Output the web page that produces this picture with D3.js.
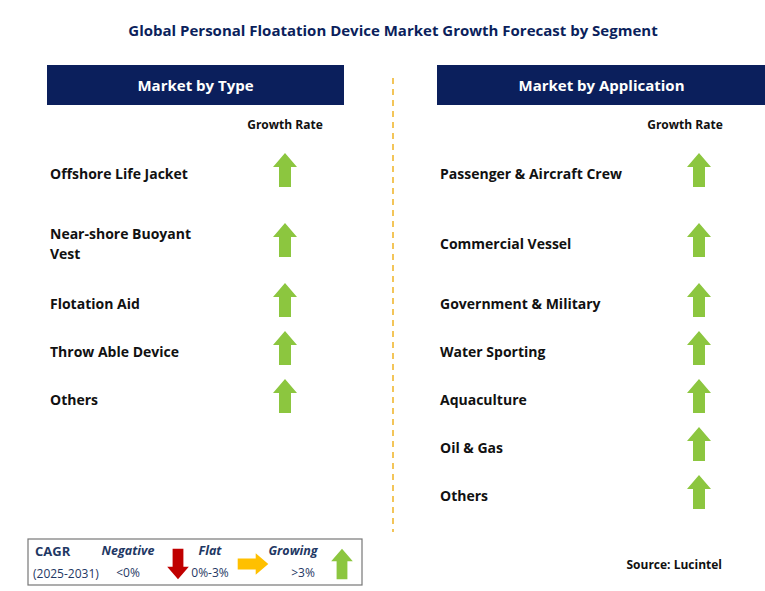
<!DOCTYPE html>
<html><head><meta charset="utf-8">
<script src="https://cdn.jsdelivr.net/npm/d3@7"></script>
<style>body{margin:0;background:#fff}text{font-family:"Open Sans",Arial,sans-serif}</style>
</head><body><svg id="c" width="765" height="591"></svg>
<script>
const title = "Global Personal Floatation Device Market Growth Forecast by Segment";
const typeSegments = ["Offshore Life Jacket", "Near-shore Buoyant\nVest", "Flotation Aid", "Throw Able Device", "Others"];
const typeGrowth = ["growing","growing","growing","growing","growing"];
const appSegments = ["Passenger & Aircraft Crew", "Commercial Vessel", "Government & Military", "Water Sporting", "Aquaculture", "Oil & Gas", "Others"];
const appGrowth = ["growing","growing","growing","growing","growing","growing","growing"];
const legendItems = [{label:"Negative", range:"<0%", dir:"down"},{label:"Flat", range:"0%-3%", dir:"right"},{label:"Growing", range:">3%", dir:"up"}];

const svg = d3.select("#c");
const navy = "#0b1f5c";
svg.append("text").attr("x",393).attr("y",36).attr("text-anchor","middle")
  .attr("font-size",15).attr("font-weight",700).attr("fill",navy).text(title);
svg.append("line").attr("x1",393).attr("x2",393).attr("y1",78).attr("y2",532)
  .attr("stroke","#f0b323").attr("stroke-width",1.5).attr("stroke-dasharray","6,5");

const colors = {up:"#8cc63f", down:"#c00000", right:"#ffc000"};
function arrow(g, cx, cy, dir, s=1){
  const p = "M0,-17 L12,-3 L6,-3 L6,17 L-6,17 L-6,-3 L-12,-3 Z";
  const rot = dir==="up"?0:dir==="down"?180:90;
  g.append("path").attr("d",p).attr("fill",colors[dir])
   .attr("transform",`translate(${cx},${cy}) rotate(${rot}) scale(${s})`);
}

function panel(x0, w, header, segs, growth, arrowX, labelX, rowYs){
  svg.append("rect").attr("x",x0).attr("y",65).attr("width",w).attr("height",40).attr("fill",navy);
  svg.append("text").attr("x",x0+w/2).attr("y",91).attr("text-anchor","middle")
    .attr("font-size",15).attr("font-weight",700).attr("fill","#fff").text(header);
  svg.append("text").attr("x",labelX).attr("y",129).attr("text-anchor","middle")
    .attr("font-size",12).attr("font-weight",700).attr("fill","#111").text("Growth Rate");
  const y = d3.scaleOrdinal().domain(segs).range(rowYs);
  const g = svg.append("g");
  segs.forEach((s,i)=>{
    const lines = s.split("\n");
    const t = g.append("text").attr("x",x0+3).attr("font-size",14).attr("font-weight",700).attr("fill","#111");
    lines.forEach((l,j)=>t.append("tspan").attr("x",x0+3)
      .attr("y",y(s)+7+(j-(lines.length-1)/2)*20).text(l));
    arrow(g, arrowX, y(s)-2, growth[i]==="growing"?"up":growth[i]==="flat"?"right":"down");
  });
}
panel(47, 297, "Market by Type", typeSegments, typeGrowth, 285, 285, [172,242,302,350,398]);
panel(437, 329, "Market by Application", appSegments, appGrowth, 699, 685, [172,242,302,350,398,446,494]);

const lg = svg.append("g");
lg.append("rect").attr("x",28).attr("y",539).attr("width",334).attr("height",46)
  .attr("fill","#fff").attr("stroke","#777").attr("stroke-width",1.2);
lg.append("text").attr("x",35).attr("y",556).attr("font-size",13).attr("font-weight",700).attr("fill","#1f3864").text("CAGR");
lg.append("text").attr("x",33).attr("y",578).attr("font-size",12).attr("fill","#1f3864").text("(2025-2031)");
const lx = d3.scaleOrdinal().domain(legendItems.map(d=>d.label)).range([128,210,293]);
const ax = {down:178, right:253, up:342};
legendItems.forEach(d=>{
  lg.append("text").attr("x",lx(d.label)).attr("y",555).attr("text-anchor","middle")
    .attr("font-size",12.5).attr("font-weight",700).attr("font-style","italic").attr("fill","#1f3864").text(d.label);
  lg.append("text").attr("x",lx(d.label)+(d.dir==="up"?10:0)).attr("y",577).attr("text-anchor","middle")
    .attr("font-size",12).attr("fill","#1f3864").text(d.range);
  arrow(lg, ax[d.dir], 564, d.dir, 0.9);
});
svg.append("text").attr("x",722).attr("y",569).attr("text-anchor","end")
  .attr("font-size",12).attr("font-weight",700).attr("fill","#111").text("Source: Lucintel");
</script></body></html>
